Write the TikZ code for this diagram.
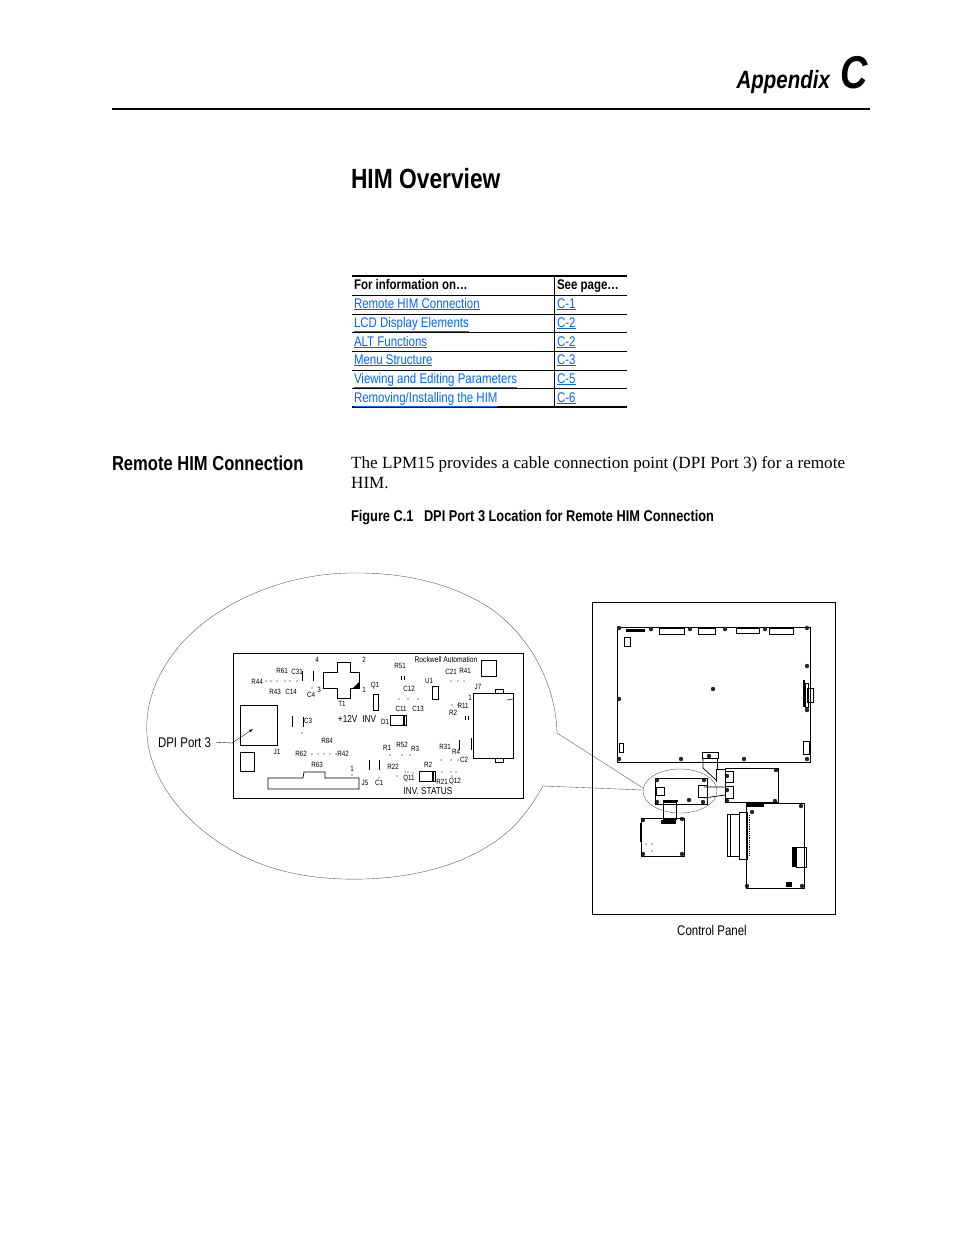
\documentclass[tikz,border=0pt]{standalone}
\usepackage{fontspec}
\setmainfont{Liberation Serif}
\setsansfont[FakeStretch=0.82]{Liberation Sans}
\definecolor{linkblue}{RGB}{0,102,255}
\begin{document}
\begin{tikzpicture}[x=1pt,y=-1pt,
  txt/.style = {font=\sffamily,anchor=base west,inner sep=0pt,outer sep=0pt},
  btxt/.style = {txt,font=\sffamily\bfseries},
  body/.style = {anchor=base west,inner sep=0pt,font=\fontsize{17.1}{20}\selectfont},
  cell/.style = {btxt,font=\sffamily\bfseries\fontsize{14}{15}\selectfont},
  linkcell/.style = {txt,font=\sffamily\fontsize{14}{15}\selectfont,text=linkblue},
  pcb/.style = {inner sep=0pt,font=\sffamily\fontsize{7.6}{8}\selectfont},
  part/.style = {draw,line width=.7pt},
  thinline/.style = {draw=black!70,line width=.35pt},
  screw/.style = {fill=black!85}]
  \useasboundingbox (0,0) rectangle (954,1235);

  % page head
  \node[btxt,anchor=base east,font=\sffamily\bfseries\itshape\fontsize{25}{28}\selectfont] (appendix) at (830,88) {Appendix};
  \node[btxt,anchor=base east,font=\sffamily\bfseries\itshape\fontsize{46}{50}\selectfont] (letter) at (868,88) {C};
  \draw[line width=1.6pt] (112,109) -- (870,109);
  \node[btxt,font=\sffamily\bfseries\fontsize{27.8}{32}\selectfont] (title) at (351,188) {HIM Overview};

  % table
  \draw[line width=1.6pt] (352,276) -- (627,276) (352,407) -- (627,407);
  \foreach \y in {295,314,332,351,370,388}
    \draw[line width=.8pt] (352,\y) -- (627,\y);
  \draw[line width=.8pt] (554,276) -- (554,407);
  \node[cell] (hinfo) at (354,289) {For information on…};
  \node[cell] (hpage) at (557,289) {See page…};
  \foreach \y/\t/\p [count=\i] in {308/Remote HIM Connection/C-1,327/LCD Display Elements/C-2,
    346/ALT Functions/C-2,364/Menu Structure/C-3,383/Viewing and Editing Parameters/C-5,
    402/Removing\slash Installing the HIM/C-6} {
    \node[linkcell] (topic\i) at (354,\y) {\underline{\t}};
    \node[linkcell] (page\i) at (557,\y) {\underline{\p}};
  }

  % section text
  \node[btxt,font=\sffamily\bfseries\fontsize{20.2}{24}\selectfont] (section) at (112,470) {Remote HIM Connection};
  \node[body] (line1) at (351,468) {The LPM15 provides a cable connection point (DPI Port 3) for a remote};
  \node[body] (line2) at (351,488) {HIM.};
  \node[btxt,font=\sffamily\bfseries\fontsize{15.6}{17}\selectfont] (capnum) at (351,521) {Figure C.1};
  \node[btxt,font=\sffamily\bfseries\fontsize{15.6}{17}\selectfont] (captext) at (424,521) {DPI Port 3 Location for Remote HIM Connection};

  % balloon
  \draw[thinline] (643,788) -- (557,733)
    .. controls (556,690) and (535,640) .. (490,608)
    .. controls (450,582) and (400,572) .. (350,573)
    .. controls (280,574) and (215,605) .. (180,645)
    .. controls (155,675) and (145,705) .. (147,735)
    .. controls (150,780) and (185,825) .. (235,852)
    .. controls (280,877) and (330,880) .. (365,879)
    .. controls (425,877) and (480,860) .. (515,825)
    .. controls (527,812) and (535,800) .. (543,786)
    -- (643,790);

  % enlarged board
  \draw[part] (233,653) rectangle (523,798);
  \draw[part] (240,705) rectangle (277,745);
  \draw[part] (240,752) rectangle (254,771);
  \draw[part] (268,778) -- (303,778) -- (304,772) -- (325,772) -- (325,778) -- (359,778)
    -- (359,789) -- (268,789) -- cycle;
  \draw[part] (337,662) -- (350,662) -- (350,672) -- (359,672) -- (359,688) -- (350,688)
    -- (350,698) -- (337,698) -- (337,688) -- (323,688) -- (323,672) -- (337,672) -- cycle;
  \fill (359,682) -- (359,688) -- (353,688) -- cycle;
  \draw[part] (373,694) rectangle (378,710);
  \draw[part] (390,715) rectangle (406,725);
  \draw[line width=1.2pt] (404,715) -- (404,725);
  \draw[part] (432,686) rectangle (438,699);
  \draw[part] (473,693) rectangle (513,758);
  \draw[part] (495,689) rectangle (503,693) (495,758) rectangle (503,762);
  \draw[line width=.5pt] (507,700) -- (513,699);
  \draw[part] (481,660) rectangle (496,676);
  \draw[part] (419,771) rectangle (435,781);
  \draw[line width=1.2pt] (433,771) -- (433,781);
  \foreach \xa/\ya/\yb in {303/717/727,292/716/727,302/671/681,313/671/681,369/760/770,379/760/770,
    459/740/750,471/738/750,401/676/680,404/676/680,465/716/720,468/716/720} {
    \draw[line width=.6pt] (\xa,\ya) -- (\xa,\yb);
  }
  \foreach \x/\y/\t [count=\i] in {317/660/4,364/660/2,400/666/R51,
    282/671/R61,297/672/C31,451/672/C21,465/671/R41,257/682/R44,275/692/R43,291/692/C14,
    311/695/C4,319/690/3,364/690/1,375/686/Q1,342/704/T1,429/681/U1,409/689/C12,478/687/J7,
    470/698/1,463/706/R11,401/709/C11,418/709/C13,453/713/R2,385/722/D1,308/721/C3,
    327/741/R84,277/752/J1,301/754/R62,343/754/R42,387/748/R1,402/745/R52,415/749/R3,
    445/747/R31,456/752/R4,464/760/C2,317/765/R63,393/767/R22,428/765/R2,352/769/1,
    365/783/J5,379/783/C1,409/779/Q11,442/782/R21,455/782/Q12} {
    \node[pcb] (pcb\i) at (\x,\y) {\t};
  }
  \node[pcb,font=\sffamily\fontsize{8.2}{9}\selectfont] (maker) at (446,660) {Rockwell Automation};
  \node[pcb,font=\sffamily\fontsize{10}{11}\selectfont] (supply) at (357,719) {+12V\hspace{5pt}INV};
  \node[pcb,font=\sffamily\fontsize{10}{11}\selectfont] (status) at (428,791) {INV. STATUS};
  \foreach \x/\y in {266/681,271/681,277/681,285/681,290/681,297/681,
    451/681,458/681,464/681,399/699,408/699,418/699,452/705,458/705,
    402/725,312/688,302/733,312/754,318/754,324/754,330/754,336/754,
    390/755,402/755,410/755,441/760,451/760,458/760,397/776,
    442/772,451/772,452/776,379/778,352/775,
    413/773,405/772,408/772,456/772} {
    \fill (\x,\y) circle (.7pt);
  }

  % leader to DPI Port 3
  \node[txt,font=\sffamily\fontsize{14}{15}\selectfont,anchor=base east] (dpilabel) at (211,747) {DPI Port 3};
  \coordinate (dpibend) at (232,743);
  \coordinate (dpiport) at (253,729);
  \draw[line width=.35pt] (dpilabel.east) ++(5,0) -- (dpibend);
  \draw[-latex,line width=.35pt] (dpibend) -- (dpiport);

  % control panel
  \draw[line width=.7pt] (592,602) rectangle (835,914);
  \node[txt,anchor=base,font=\sffamily\fontsize{14}{15}\selectfont] (panel) at (712,935) {Control Panel};

  % main board
  \draw[part] (617,627) rectangle (810,762);
  \foreach \x/\y in {619/628,651/629,690/629,725/629,765/629,807/628,807/666,713/689,
    619/699,807/710,619/759,681/759,744/759,807/759,
    776/770,775/801,727/801,727/776,727/790,
    657/780,704/780,657/802,703/802,689/800,
    643/820,682/819,643/854,682/854,
    801/806,752/812,747/886,802/886,709/756} {
    \fill[screw] (\x,\y) circle (2.2pt);
  }
  \fill (626,629) rectangle (645,632);
  \draw[part] (624,637) rectangle (630,646);
  \draw[part] (659,628) rectangle (684,634);
  \draw[part] (698,628) rectangle (715,634);
  \draw[part] (736,628) rectangle (759,633);
  \draw[line width=1.2pt] (736,628) -- (759,628);
  \draw[part] (769,628) rectangle (793,634);
  \draw[part] (807,688) rectangle (813,702);
  \fill (803,680) rectangle (805,707);
  \draw[part] (805,683) rectangle (808,707);
  \draw[part] (619,743) rectangle (623,752);
  \draw[part] (803,741) rectangle (809,754);
  \draw[part] (702,752) rectangle (718,758);

  % flat cables
  \draw[part] (703,758) -- (703,768) -- (716,780);
  \draw[part] (717,758) -- (717,769) -- (725,769);
  \draw[part] (716,769) -- (716,782);
  \draw[part] (704,787) -- (725,787) (704,798) -- (725,795);

  % small boards
  \draw[part] (725,768) rectangle (778,802);
  \draw[part] (725,771) rectangle (733,782);
  \draw[part] (725,786) rectangle (733,798);
  \draw[part] (655,778) rectangle (707,804);
  \draw[part] (656,787) rectangle (664,795);
  \draw[part] (698,785) rectangle (707,797);
  \fill (663,800) rectangle (678,802);
  \draw[part] (663,802) rectangle (676,819);
  \draw[part] (641,818) rectangle (684,856);
  \fill (661,820) rectangle (676,824);
  \draw[line width=1.2pt] (641,823) -- (641,842);
  \foreach \x/\y in {646/844,652/844,652/851}
    \fill (\x,\y) circle (.7pt);

  % lower board
  \draw[part] (746,803) rectangle (804,888);
  \fill (747,802) rectangle (764,807);
  \draw[part] (727,814) rectangle (739,856);
  \draw[part] (730,814) -- (730,856);
  \draw[part] (739,812) rectangle (747,859);
  \draw[line width=.8pt,densely dotted] (749,815) -- (749,855);
  \fill (786,882) rectangle (792,887);
  \fill (792,847) rectangle (796,867);
  \draw[part] (796,847) rectangle (806,867);

  % zoom circle
  \draw[thinline] (680,791) ellipse (37pt and 22pt);
\end{tikzpicture}
\end{document}
